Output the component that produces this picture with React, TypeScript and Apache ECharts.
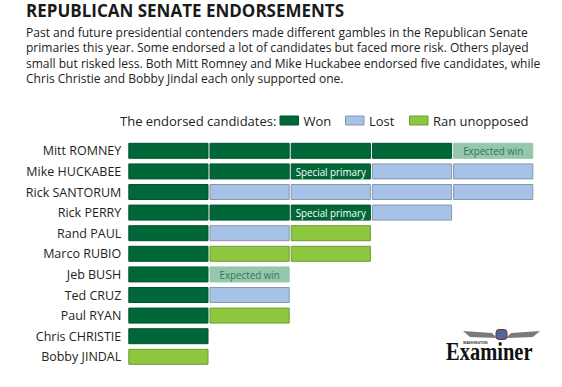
import React, { useEffect, useRef } from "react";
import * as echarts from "echarts";

const TITLE = "REPUBLICAN SENATE ENDORSEMENTS";
const INTRO_LINES = [
  "Past and future presidential contenders made different gambles in the Republican Senate",
  "primaries this year. Some endorsed a lot of candidates but faced more risk. Others played",
  "small but risked less. Both Mitt Romney and Mike Huckabee endorsed five candidates, while",
  "Chris Christie and Bobby Jindal each only supported one.",
];
const LEGEND_LABEL = "The endorsed candidates:";
const LEGEND_ITEMS = ["Won", "Lost", "Ran unopposed"];

const categories = [
  "Mitt ROMNEY",
  "Mike HUCKABEE",
  "Rick SANTORUM",
  "Rick PERRY",
  "Rand PAUL",
  "Marco RUBIO",
  "Jeb BUSH",
  "Ted CRUZ",
  "Paul RYAN",
  "Chris CHRISTIE",
  "Bobby JINDAL",
];

// outcome of each endorsed candidate, in order, per endorser
const outcomes: string[][] = [
  ["Won", "Won", "Won", "Won", "Expected"],
  ["Won", "Won", "Special", "Lost", "Lost"],
  ["Won", "Lost", "Lost", "Lost", "Lost"],
  ["Won", "Won", "Special", "Lost"],
  ["Won", "Lost", "Unopposed"],
  ["Won", "Unopposed", "Unopposed"],
  ["Won", "Expected"],
  ["Won", "Lost"],
  ["Won", "Unopposed"],
  ["Won"],
  ["Unopposed"],
];

const STATUS_KEYS = ["Won", "Special", "Lost", "Unopposed", "Expected"];
const STATUS_STYLE: Record<string, { fill: string; stroke: string; label?: string; color?: string }> = {
  Won: { fill: "#006838", stroke: "#00542d" },
  Special: { fill: "#006838", stroke: "#00542d", label: "Special primary", color: "#ffffff" },
  Lost: { fill: "#a7c2e7", stroke: "#8596ae" },
  Unopposed: { fill: "#8dc63f", stroke: "#6f9c37" },
  Expected: { fill: "#96c7ae", stroke: "#96c7ae", label: "Expected win", color: "#2a7a4f" },
};
const LEGEND_COLORS = [STATUS_STYLE.Won, STATUS_STYLE.Lost, STATUS_STYLE.Unopposed];

const FONT = "'Open Sans', 'Noto Sans', sans-serif";

export default function App() {
  const ref = useRef<HTMLDivElement>(null);
  useEffect(() => {
    if (!ref.current) return;
    const chart = echarts.init(ref.current, undefined, { renderer: "svg" });

    const data: number[][] = [];
    outcomes.forEach((row, r) => {
      row.forEach((s, i) => data.push([i, r, STATUS_KEYS.indexOf(s)]));
    });

    const graphics: any[] = [
      {
        type: "text",
        x: 26,
        y: 10,
        style: {
          text: TITLE,
          font: `bold 17px ${FONT}`,
          lineHeight: 17,
          fill: "#1a1a1a",
          verticalAlign: "middle",
        },
      },
      ...INTRO_LINES.map((t, i) => ({
        type: "text",
        x: 26,
        y: 32 + i * 15.5,
        scaleX: 0.98,
        style: {
          text: t,
          font: `12.3px ${FONT}`,
          lineHeight: 14,
          fill: "#222222",
          verticalAlign: "middle",
        },
      })),
      {
        type: "text",
        x: 120,
        y: 120.5,
        style: { text: LEGEND_LABEL, font: `13px ${FONT}`, fill: "#222222", verticalAlign: "middle" },
      },
    ];
    const legendX = [280, 345.5, 409.5];
    LEGEND_ITEMS.forEach((name, i) => {
      graphics.push({
        type: "rect",
        shape: { x: legendX[i], y: 116, width: 18.5, height: 9 },
        style: { fill: LEGEND_COLORS[i].fill, stroke: LEGEND_COLORS[i].stroke, lineWidth: 1 },
      });
      graphics.push({
        type: "text",
        x: legendX[i] + 23.5,
        y: 120.5,
        style: { text: name, font: `13px ${FONT}`, fill: "#222222", verticalAlign: "middle" },
      });
    });
    // Washington Examiner logo
    graphics.push(
      {
        type: "polygon",
        shape: { points: [[463, 331], [492, 333], [497, 338], [470, 337]] },
        style: { fill: "#7a7a7a" },
      },
      {
        type: "polygon",
        shape: { points: [[540, 331], [511, 333], [506, 338], [533, 337]] },
        style: { fill: "#7a7a7a" },
      },
      {
        type: "rect",
        shape: { x: 496, y: 329.5, width: 11, height: 10, r: 3 },
        style: { fill: "#4b6a9b", stroke: "#8a2b2b", lineWidth: 1 },
      },
      {
        type: "text",
        x: 463,
        y: 342.5,
        style: { text: "WASHINGTON", font: `bold 3.5px ${FONT}`, fill: "#333", verticalAlign: "middle" },
      },
      {
        type: "text",
        x: 446,
        y: 352,
        scaleX: 0.82,
        style: {
          text: "Examiner",
          font: `bold 25px 'Liberation Serif', serif`,
          fill: "#111111",
          verticalAlign: "middle",
        },
      }
    );

    chart.setOption({
      animation: false,
      grid: { left: 128.3, width: 406, top: 140.5, height: 226.6 },
      xAxis: { type: "value", min: 0, max: 5, show: false },
      yAxis: {
        type: "category",
        data: categories,
        inverse: true,
        axisLine: { show: false },
        axisTick: { show: false },
        splitLine: { show: false },
        axisLabel: { margin: 7, fontSize: 12.5, color: "#231f20", fontFamily: FONT },
      },
      graphic: graphics,
      series: [
        {
          type: "custom",
          data,
          encode: { x: 0, y: 1 },
          renderItem: (params: any, api: any) => {
            const pos = api.value(0);
            const row = api.value(1);
            const st = STATUS_STYLE[STATUS_KEYS[api.value(2)]];
            const p0 = api.coord([pos, row]);
            const p1 = api.coord([pos + 1, row]);
            const h = 15;
            const x = p0[0] + 0.5;
            const w = p1[0] - p0[0] - 2;
            const children: any[] = [
              {
                type: "rect",
                shape: { x, y: p0[1] - h / 2, width: w, height: h },
                style: { fill: st.fill, stroke: st.stroke, lineWidth: 1 },
              },
            ];
            if (st.label) {
              children.push({
                type: "text",
                x: x + w / 2,
                y: p0[1],
                scaleX: 0.85,
                style: {
                  x: 0,
                  y: 0,
                  text: st.label,
                  fill: st.color,
                  font: `11.5px ${FONT}`,
                  align: "center",
                  verticalAlign: "middle",
                },
              });
            }
            return { type: "group", children };
          },
        },
      ],
    });
    return () => chart.dispose();
  }, []);
  return <div ref={ref} style={{ width: 562, height: 387, position: "absolute", left: 0, top: 0 }} />;
}
